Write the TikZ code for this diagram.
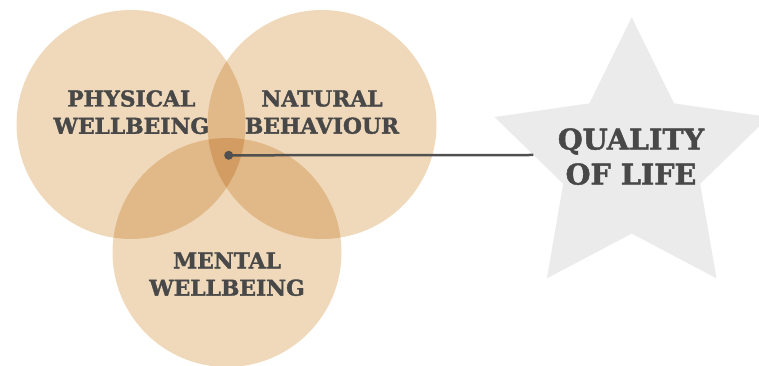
\documentclass[tikz,border=0pt]{standalone}
\usepackage{fontspec}
\setmainfont{DejaVu Serif}
\newfontfamily\labelfont{DejaVu Serif}[FakeBold=1.6]
\definecolor{circfill}{RGB}{240,217,186}
\definecolor{starfill}{RGB}{235,235,235}
\definecolor{txtgray}{RGB}{72,72,72}
\definecolor{linegray}{RGB}{80,80,80}
\begin{document}
\begin{tikzpicture}[x=1pt,y=1pt,
  venn/.style={fill=circfill},
  vlabel/.style={text=txtgray, align=center, inner sep=0pt,
    font=\labelfont\bfseries\fontsize{21.8}{27.3}\selectfont},
  qlabel/.style={text=txtgray, align=center, inner sep=0pt,
    font=\labelfont\bfseries\fontsize{28.6}{35}\selectfont},
  connector/.style={draw=linegray, line width=2.5pt}]
\useasboundingbox (0,0) rectangle (759,366);
\clip (0,0) rectangle (759,366);
% star
\begin{scope}[shift={(631.7,204.4)}]
\fill[starfill] (90:144.3)
  \foreach \k in {0,...,4} {
    -- ({90+72*\k}:144.3) -- ({126+72*\k}:72)
  } -- cycle;
\end{scope}
% circles
\begin{scope}[blend group=multiply]
  \fill[venn] (131,241.5) circle (114.5);
  \fill[venn] (322,241.5) circle (114.5);
  \fill[venn] (227,113.5) circle (114.5);
\end{scope}
\node[vlabel] (phys) at (131.3,253.8) {PHYSICAL\\WELLBEING};
\node[vlabel] (nat) at (322,253.8) {NATURAL\\BEHAVIOUR};
\node[vlabel] (ment) at (227,91.8) {MENTAL\\WELLBEING};
\node[qlabel] (qol) at (631,209.4) {QUALITY\\OF LIFE};
\node[circle, fill=linegray, minimum size=9pt, inner sep=0pt] (dot) at (228.7,210.7) {};
\coordinate (qend) at (533.4,211);
\draw[connector] (dot.center) -- (qend);
\end{tikzpicture}
\end{document}
